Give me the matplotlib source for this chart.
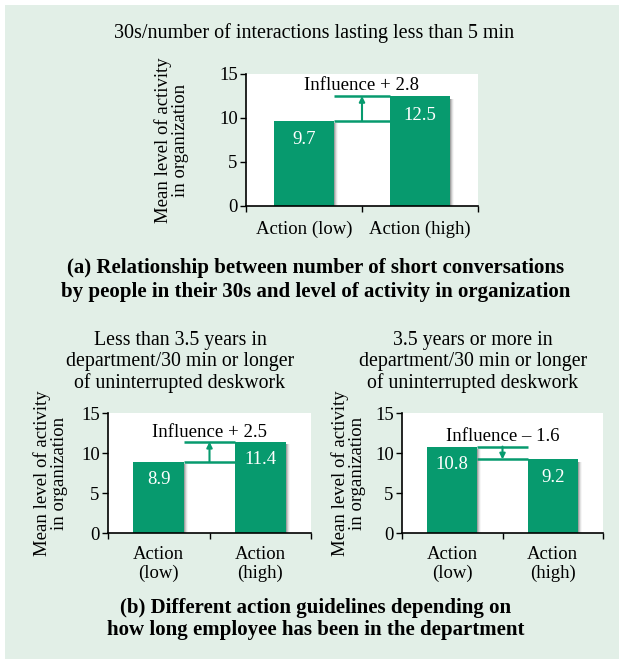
import matplotlib
matplotlib.use("Agg")
import matplotlib.pyplot as plt
from matplotlib.patches import Rectangle

plt.rcParams['font.family'] = ['Liberation Serif', 'DejaVu Serif']

W, H = 619, 659
GREEN = '#079a6e'
BG = '#e2efe7'
SHADOW = '#606060'

# ---- data ----
categories_a = ['Action (low)', 'Action (high)']
values_a = [9.7, 12.5]
title_a = '30s/number of interactions lasting less than 5 min'
influence_a = 'Influence + 2.8'

categories_b = ['Action\n(low)', 'Action\n(high)']
values_bl = [8.9, 11.4]
title_bl = 'Less than 3.5 years in\ndepartment/30 min or longer\nof uninterrupted deskwork'
influence_bl = 'Influence + 2.5'
values_br = [10.8, 9.2]
title_br = '3.5 years or more in\ndepartment/30 min or longer\nof uninterrupted deskwork'
influence_br = 'Influence \u2013 1.6'

yticks = [0, 5, 10, 15]
ylabel = 'Mean level of activity\nin organization'
caption_a = '(a) Relationship between number of short conversations\nby people in their 30s and level of activity in organization'
caption_b = '(b) Different action guidelines depending on\nhow long employee has been in the department'

FS = 13.5

fig = plt.figure(figsize=(W / 100, H / 100), dpi=100)
fig.patch.set_facecolor('white')
fig.patches.append(Rectangle((5 / W, 0), 1, 1 - 5 / H, transform=fig.transFigure,
                             facecolor=BG, edgecolor='none', zorder=-10))


def px_axes(left, right, top, bottom):
    return fig.add_axes([left / W, 1 - bottom / H, (right - left) / W, (bottom - top) / H])


def draw_panel(ax, cats, vals, influence, bar_w, text_y, px_w):
    ax.set_facecolor('white')
    x = list(range(len(vals)))
    upx = 2.0 / px_w  # data units per pixel
    # soft drop shadows
    for k, a in [(1, 0.35), (2, 0.22), (3, 0.12), (4, 0.05)]:
        ax.bar([xi + k * upx for xi in x], [v - 0.3 for v in vals], width=bar_w,
               color=SHADOW, alpha=a, zorder=1, linewidth=0)
    ax.bar(x, vals, width=bar_w, color=GREEN, zorder=2, linewidth=0)
    for xi, v in zip(x, vals):
        ax.text(xi, v - 2.2, f'{v}', ha='center', va='center', color='white',
                fontsize=FS, zorder=3)
    ax.set_xlim(-0.5, 1.5)
    ax.set_ylim(0, 15)
    ax.set_yticks(yticks)
    ax.set_xticks([-0.5, 0.5, 1.5])
    ax.set_xticklabels([])
    for xi, c in zip(x, cats):
        ax.text(xi, -1.65, c, ha='center', va='top', fontsize=FS, linespacing=1.1)
    ax.tick_params(axis='y', labelsize=FS, direction='out', length=4, width=1, pad=2)
    ax.tick_params(axis='x', direction='out', length=4, width=1)
    for s in ['top', 'right']:
        ax.spines[s].set_visible(False)
    for s in ['left', 'bottom']:
        ax.spines[s].set_linewidth(1.2)
    # influence bracket
    x0 = 0 + bar_w / 2
    x1 = 1 - bar_w / 2
    ax.plot([x0, x1], [vals[0], vals[0]], color=GREEN, lw=1.8, zorder=4, solid_capstyle='butt')
    ax.plot([x0, x1], [vals[1], vals[1]], color=GREEN, lw=1.8, zorder=4, solid_capstyle='butt')
    ax.annotate('', xy=(0.5, vals[1]), xytext=(0.5, vals[0]),
                arrowprops=dict(arrowstyle='-|>', color=GREEN, lw=1.5,
                                mutation_scale=8, shrinkA=0, shrinkB=0), zorder=4)
    ax.text(0.5, text_y, influence, ha='center', va='center', fontsize=FS, zorder=5)


# ---- panel (a) ----
ax_a = px_axes(246, 478, 74, 206)
draw_panel(ax_a, categories_a, values_a, influence_a, 0.51, 13.7, 232)
fig.text(314 / W, 1 - 33 / H, title_a, ha='center', va='center', fontsize=14.5)
fig.text(172 / W, 1 - 140 / H, ylabel, ha='center', va='center', rotation=90,
         fontsize=FS, linespacing=1.0)
fig.text(316 / W, 1 - 280 / H, caption_a, ha='center', va='center', fontsize=15,
         fontweight='bold', linespacing=1.2)

# ---- panel (b) left ----
ax_bl = px_axes(108, 311, 413, 533)
draw_panel(ax_bl, categories_b, values_bl, influence_bl, 0.5, 12.6, 203)
fig.text(180 / W, 1 - 362 / H, title_bl, ha='center', va='center', fontsize=14.3,
         linespacing=1.12)
fig.text(51 / W, 1 - 473 / H, ylabel, ha='center', va='center', rotation=90,
         fontsize=FS, linespacing=1.0)

# ---- panel (b) right ----
ax_br = px_axes(402, 603, 413, 533)
draw_panel(ax_br, categories_b, values_br, influence_br, 0.5, 12.1, 201)
fig.text(473 / W, 1 - 362 / H, title_br, ha='center', va='center', fontsize=14.3,
         linespacing=1.12)
fig.text(349 / W, 1 - 473 / H, ylabel, ha='center', va='center', rotation=90,
         fontsize=FS, linespacing=1.0)

fig.text(316 / W, 1 - 619 / H, caption_b, ha='center', va='center', fontsize=15,
         fontweight='bold', linespacing=1.2)

fig.savefig('out.png', dpi=100, facecolor=fig.get_facecolor())
